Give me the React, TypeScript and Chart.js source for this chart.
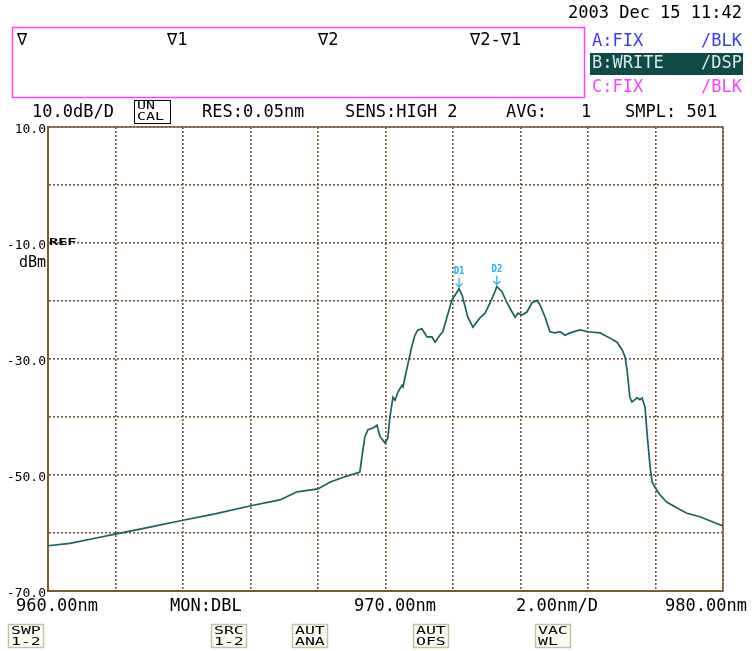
import React, { useEffect, useRef } from "react";
import { Chart, registerables } from "chart.js";

Chart.register(...registerables);

// Spectrum trace (wavelength nm, power dBm)
const wavelengths = [
  960.0, 960.65, 961.39, 961.99, 963.02, 964.0, 964.95, 966.01, 966.87, 967.38,
  968.0, 968.36, 968.8, 969.24, 969.3, 969.39, 969.48, 969.63, 969.75, 969.78,
  969.84, 969.99, 970.07, 970.13, 970.22, 970.28, 970.37, 970.49, 970.52, 970.58,
  970.67, 970.79, 970.87, 970.96, 971.08, 971.23, 971.38, 971.47, 971.61, 971.7,
  971.82, 971.97, 972.06, 972.18, 972.27, 972.44, 972.59, 972.71, 972.8, 972.95,
  973.1, 973.24, 973.3, 973.45, 973.6, 973.75, 973.84, 973.93, 974.04, 974.19,
  974.34, 974.49, 974.58, 974.73, 974.87, 975.02, 975.17, 975.32, 975.47, 975.76,
  976.0, 976.36, 976.65, 976.86, 977.01, 977.1, 977.16, 977.24, 977.3, 977.39,
  977.45, 977.54, 977.6, 977.69, 977.75, 977.84, 977.9, 977.99, 978.13, 978.34,
  978.64, 978.93, 979.32, 979.7, 980.0,
];
const powerDbm = [
  -62.2, -61.8, -60.9, -60.2, -59.0, -57.8, -56.7, -55.3, -54.3, -52.9,
  -52.4, -51.2, -50.3, -49.5, -46.9, -43.4, -42.2, -41.9, -41.4, -42.2,
  -43.4, -44.5, -43.6, -40.0, -36.6, -37.1, -35.7, -34.5, -34.8, -33.1,
  -30.7, -27.6, -25.9, -25.0, -24.8, -26.2, -26.2, -27.1, -25.9, -25.3,
  -22.8, -19.8, -19.0, -17.9, -19.0, -22.8, -24.5, -23.6, -22.9, -22.1,
  -20.3, -18.4, -17.5, -18.4, -20.3, -21.9, -22.8, -22.1, -22.4, -21.9,
  -20.3, -19.9, -20.7, -22.8, -25.3, -25.5, -25.3, -25.9, -25.5, -25.0,
  -25.3, -25.5, -26.4, -27.1, -28.4, -29.7, -32.0, -36.6, -37.4, -37.0,
  -36.7, -37.0, -36.7, -38.3, -42.8, -48.6, -51.2, -52.2, -53.4, -54.7,
  -55.7, -56.6, -57.2, -58.1, -58.8,
];

const yTickLabels = [10, -10, -30, -50, -70];
const markerLabels = ["D1", "D2"];
const markerWavelengths = [972.18, 973.3];
const markerPowers = [-17.9, -17.5];

const topMarkerTexts = ["∇", "∇1", "∇2", "∇2-∇1"];
const statusTexts = ["10.0dB/D", "RES:0.05nm", "SENS:HIGH 2", "AVG:", "1", "SMPL: 501"];
const bottomTexts = ["960.00nm", "MON:DBL", "970.00nm", "2.00nm/D", "980.00nm"];
const softKeys = [
  ["SWP", "1-2"],
  ["SRC", "1-2"],
  ["AUT", "ANA"],
  ["AUT", "OFS"],
  ["VAC", "WL"],
];

const MONO = "'DejaVu Sans Mono', monospace";
const FRAME = "#7d5a36";
const GRID = "#76563a";
const TRACE = "#1a625e";

const overlay = {
  id: "osaOverlay",
  afterDraw(chart: any) {
    const ctx: CanvasRenderingContext2D = chart.ctx;
    const { left, top, right, bottom } = chart.chartArea;
    const xs = chart.scales.x;
    const ys = chart.scales.y;
    const t = (s: string, x: number, y: number, align: CanvasTextAlign, color: string, font: string, sx = 1) => {
      ctx.save();
      ctx.translate(x, y);
      ctx.scale(sx, 1);
      ctx.font = font;
      ctx.fillStyle = color;
      ctx.textAlign = align;
      ctx.textBaseline = "middle";
      ctx.fillText(s, 0, 0);
      ctx.restore();
    };
    ctx.save();
    // solid frame
    ctx.strokeStyle = FRAME;
    ctx.lineWidth = 1.5;
    ctx.beginPath();
    ctx.moveTo(left, top);
    ctx.lineTo(right, top);
    ctx.lineTo(right, bottom);
    ctx.stroke();

    const big = `17px ${MONO}`;
    // date
    t("2003 Dec 15 11:42", 742, 14, "right", "#000", big);
    // marker box
    ctx.strokeStyle = "#ff40ff";
    ctx.lineWidth = 1.5;
    ctx.strokeRect(12.5, 27.5, 572, 70);
    const mx = [17, 167, 318, 470];
    topMarkerTexts.forEach((s, i) => t(s, mx[i], 41, "left", "#000", big));
    // trace panel
    t("A:FIX", 592, 42, "left", "#3c3cff", big);
    t("/BLK", 742, 42, "right", "#3c3cff", big);
    ctx.fillStyle = "#0e4a47";
    ctx.fillRect(590, 53, 153, 22);
    t("B:WRITE", 592, 64, "left", "#d8e8e6", big);
    t("/DSP", 742, 64, "right", "#d8e8e6", big);
    t("C:FIX", 592, 88, "left", "#ff40ff", big);
    t("/BLK", 742, 88, "right", "#ff40ff", big);
    // status row
    const sx = [32, 202, 345, 506, 581, 625];
    statusTexts.forEach((s, i) => t(s, sx[i], 113, "left", "#000", big));
    ctx.strokeStyle = "#000";
    ctx.lineWidth = 1;
    ctx.strokeRect(134.5, 100.5, 36, 23);
    t("UN", 137, 106, "left", "#000", `10px ${MONO}`, 1.5);
    t("CAL", 137, 117, "left", "#000", `10px ${MONO}`, 1.5);
    // y-axis extras
    t("dBm", 46, 263, "right", "#000", `15px ${MONO}`);
    t("REF", 49, 243, "left", "#000", `bold 8px ${MONO}`, 1.9);
    // bottom row
    const bx = [16, 170, 354, 516, 665];
    bottomTexts.forEach((s, i) => t(s, bx[i], 607, "left", "#000", big));
    // soft keys
    const kx = [8, 211, 292, 413, 535];
    softKeys.forEach((k, i) => {
      ctx.fillStyle = "#fbfbf4";
      ctx.fillRect(kx[i], 624, 36, 24);
      ctx.strokeStyle = "#c4c4a4";
      ctx.lineWidth = 1.5;
      ctx.strokeRect(kx[i] + 0.5, 624.5, 35, 23);
      t(k[0], kx[i] + 3, 631, "left", "#000", `10px ${MONO}`, 1.65);
      t(k[1], kx[i] + 3, 642, "left", "#000", `10px ${MONO}`, 1.65);
    });
    // delta markers
    markerLabels.forEach((lab, i) => {
      const px = xs.getPixelForValue(markerWavelengths[i]);
      const py = ys.getPixelForValue(markerPowers[i]);
      t(lab, px, py - 17, "center", "#1ab0f0", `bold 10px ${MONO}`, 0.9);
      ctx.strokeStyle = "#1ab0f0";
      ctx.lineWidth = 1.2;
      ctx.beginPath();
      ctx.moveTo(px, py - 11);
      ctx.lineTo(px, py - 2);
      ctx.moveTo(px - 3.5, py - 5.5);
      ctx.lineTo(px, py - 2);
      ctx.lineTo(px + 3.5, py - 5.5);
      ctx.stroke();
    });
    ctx.restore();
  },
};

export default function App() {
  const ref = useRef<HTMLCanvasElement | null>(null);
  useEffect(() => {
    if (!ref.current) return;
    const chart = new Chart(ref.current, {
      type: "line",
      data: {
        datasets: [
          {
            data: wavelengths.map((w, i) => ({ x: w, y: powerDbm[i] })),
            borderColor: TRACE,
            borderWidth: 1.7,
            pointRadius: 0,
            tension: 0,
            fill: false,
          },
        ],
      },
      options: {
        animation: false,
        responsive: false,
        devicePixelRatio: 1,
        layout: { padding: { top: 127, right: 33, left: 0, bottom: 0 } },
        plugins: { legend: { display: false }, tooltip: { enabled: false } },
        scales: {
          x: {
            type: "linear",
            min: 960,
            max: 980,
            ticks: { stepSize: 2, display: false },
            grid: { color: GRID, lineWidth: 1.6, drawTicks: false },
            border: { display: true, color: FRAME, width: 2, dash: [2, 2] },
            afterFit: (s: any) => {
              s.height = 60;
            },
          },
          y: {
            type: "linear",
            min: -70,
            max: 10,
            ticks: {
              stepSize: 10,
              color: "#000",
              padding: 2,
              labelOffset: 3,
              font: { family: "DejaVu Sans Mono", size: 13 },
              callback: (v: any) => (yTickLabels.includes(Number(v)) ? Number(v).toFixed(1) : ""),
            },
            grid: { color: GRID, lineWidth: 1.6, drawTicks: false },
            border: { display: true, color: FRAME, width: 2, dash: [2, 2] },
            afterFit: (s: any) => {
              s.width = 48;
            },
          },
        },
      },
      plugins: [overlay],
    } as any);
    return () => chart.destroy();
  }, []);
  return (
    <div style={{ position: "fixed", left: 0, top: 0, width: 756, height: 651, background: "#fff" }}>
      <canvas ref={ref} width={756} height={651} style={{ display: "block" }} />
    </div>
  );
}
